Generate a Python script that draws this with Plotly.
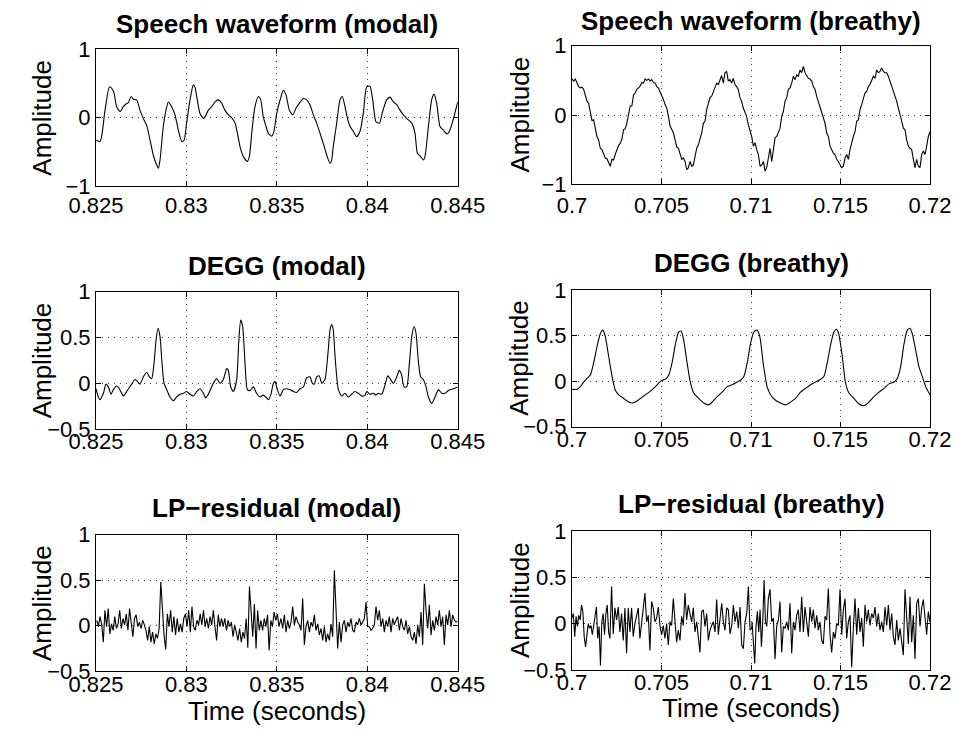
import numpy as np
import plotly.graph_objects as go

# ---------------- data (times in ms from window start, amplitudes normalised) ----------------
MODAL_T0 = 0.825
BREATHY_T0 = 0.700

speech_modal_ms = [0, 0.22, 0.31, 0.50, 0.74, 0.87, 1.00, 1.14, 1.33, 1.51,
    1.66, 1.79, 1.94, 2.06, 2.25, 2.43, 2.65, 2.80, 2.99, 3.17,
    3.32, 3.45, 3.54, 3.72, 3.87, 4.00, 4.18, 4.37, 4.55, 4.74,
    4.87, 5.01, 5.20, 5.38, 5.47, 5.60, 5.75, 5.94, 6.03, 6.21,
    6.40, 6.58, 6.76, 6.95, 7.13, 7.32, 7.50, 7.69, 7.82, 7.96,
    8.15, 8.37, 8.48, 8.61, 8.79, 8.98, 9.11, 9.25, 9.38, 9.53,
    9.71, 9.84, 9.99, 10.18, 10.36, 10.51, 10.69, 10.88, 11.06, 11.24,
    11.47, 11.65, 11.83, 12.02, 12.20, 12.39, 12.57, 12.76, 12.94, 13.03,
    13.12, 13.31, 13.49, 13.62, 13.77, 13.92, 14.05, 14.23, 14.41, 14.60,
    14.78, 14.97, 15.15, 15.30, 15.48, 15.67, 15.85, 16.07, 16.26, 16.44,
    16.63, 16.81, 17.00, 17.18, 17.46, 17.64, 17.77, 17.95, 18.10, 18.19,
    18.38, 18.56, 18.69, 18.84, 19.02, 19.20, 19.42, 19.57, 19.75, 20.00]
speech_modal_amp = [-0.33, -0.35, -0.28, 0.11, 0.45, 0.43, 0.36, 0.16, 0.09, 0.16,
    0.20, 0.22, 0.31, 0.27, 0.26, 0.11, -0.03, -0.11, -0.33, -0.55,
    -0.67, -0.74, -0.62, -0.13, 0.11, 0.23, 0.16, 0.04, -0.18, -0.35,
    -0.33, -0.08, 0.26, 0.48, 0.45, 0.26, 0.06, -0.01, 0.01, 0.11,
    0.16, 0.23, 0.26, 0.21, 0.11, 0.04, 0.00, -0.08, -0.23, -0.42,
    -0.57, -0.64, -0.57, -0.23, 0.16, 0.31, 0.26, 0.01, -0.11, -0.23,
    -0.27, -0.20, 0.06, 0.26, 0.40, 0.33, 0.11, 0.04, 0.14, 0.21,
    0.28, 0.26, 0.19, 0.04, -0.08, -0.23, -0.38, -0.55, -0.67, -0.62,
    -0.42, -0.08, 0.26, 0.31, 0.16, -0.03, -0.13, -0.20, -0.28, -0.20,
    0.06, 0.45, 0.46, 0.26, -0.06, -0.08, 0.09, 0.26, 0.30, 0.23,
    0.19, 0.11, 0.04, -0.01, -0.08, -0.23, -0.52, -0.57, -0.62, -0.57,
    -0.13, 0.26, 0.34, 0.21, -0.13, -0.18, -0.24, -0.18, -0.03, 0.23]

# breathy speech: two runs of evenly spaced readings (start ms, end ms, values)
speech_breathy_run1 = (0.0, 9.94, [0.52, 0.49, 0.52, 0.47, 0.41, 0.39, 0.40, 0.37, 0.29, 0.20,
    0.17, 0.05, -0.08, -0.07, -0.21, -0.31, -0.36, -0.48, -0.50, -0.57,
    -0.62, -0.63, -0.69, -0.74, -0.64, -0.65, -0.57, -0.50, -0.44, -0.41,
    -0.35, -0.21, -0.20, -0.12, 0.03, 0.13, 0.13, 0.29, 0.32, 0.37,
    0.39, 0.42, 0.47, 0.46, 0.52, 0.50, 0.52, 0.49, 0.51, 0.47,
    0.46, 0.41, 0.39, 0.34, 0.29, 0.22, 0.15, 0.10, -0.02, -0.16,
    -0.21, -0.26, -0.36, -0.46, -0.48, -0.55, -0.64, -0.62, -0.67, -0.79,
    -0.76, -0.67, -0.74, -0.72, -0.57, -0.48, -0.43, -0.36, -0.26, -0.12,
    -0.09, 0.08, 0.15, 0.25, 0.27, 0.34, 0.41, 0.46, 0.44, 0.51,
    0.57, 0.46, 0.61, 0.63, 0.49, 0.51, 0.46, 0.53, 0.44, 0.41,
    0.37, 0.25, 0.20, 0.10, 0.05, -0.02, -0.14, -0.21])
speech_breathy_run2 = (10.04, 20.0, [-0.31, -0.45, -0.40, -0.50, -0.57, -0.74, -0.72, -0.67, -0.81, -0.76,
    -0.62, -0.48, -0.67, -0.48, -0.33, -0.31, -0.24, -0.19, -0.02, 0.05,
    0.20, 0.25, 0.37, 0.39, 0.46, 0.56, 0.51, 0.58, 0.56, 0.65,
    0.61, 0.70, 0.61, 0.56, 0.53, 0.52, 0.49, 0.41, 0.37, 0.27,
    0.20, 0.13, 0.03, -0.04, -0.12, -0.26, -0.31, -0.45, -0.50, -0.55,
    -0.57, -0.64, -0.67, -0.72, -0.76, -0.74, -0.62, -0.57, -0.64, -0.50,
    -0.38, -0.31, -0.24, -0.09, -0.07, 0.08, 0.15, 0.22, 0.32, 0.34,
    0.41, 0.44, 0.51, 0.56, 0.53, 0.65, 0.61, 0.63, 0.68, 0.63,
    0.61, 0.61, 0.56, 0.49, 0.44, 0.37, 0.27, 0.20, 0.10, -0.02,
    -0.09, -0.19, -0.21, -0.36, -0.45, -0.48, -0.50, -0.64, -0.76, -0.64,
    -0.74, -0.76, -0.57, -0.52, -0.57, -0.45, -0.31, -0.24])

degg_modal_ms = [0, 0.13, 0.22, 0.41, 0.55, 0.68, 0.83, 0.96, 1.14, 1.29,
    1.51, 1.70, 1.97, 2.16, 2.30, 2.43, 2.62, 2.80, 2.95, 3.08,
    3.21, 3.32, 3.43, 3.54, 3.65, 3.76, 3.91, 4.09, 4.28, 4.46,
    4.65, 4.83, 5.01, 5.20, 5.38, 5.57, 5.75, 5.94, 6.06, 6.21,
    6.49, 6.67, 6.86, 7.04, 7.23, 7.32, 7.45, 7.60, 7.78, 7.89,
    8.00, 8.11, 8.24, 8.37, 8.52, 8.70, 8.88, 9.07, 9.25, 9.44,
    9.53, 9.66, 9.81, 9.90, 10.03, 10.18, 10.36, 10.54, 10.73, 10.91,
    11.10, 11.28, 11.47, 11.65, 11.83, 11.96, 12.07, 12.20, 12.35, 12.48,
    12.66, 12.81, 12.94, 13.03, 13.12, 13.22, 13.40, 13.59, 13.77, 13.95,
    14.14, 14.32, 14.51, 14.69, 14.88, 14.97, 15.15, 15.34, 15.48, 15.61,
    15.80, 15.98, 16.13, 16.26, 16.44, 16.63, 16.77, 16.90, 17.03, 17.18,
    17.33, 17.46, 17.59, 17.70, 17.82, 17.95, 18.10, 18.25, 18.38, 18.56,
    18.75, 18.93, 19.12, 19.30, 19.48, 19.76, 20.00]
degg_modal_amp = [-0.06, -0.15, -0.18, -0.11, -0.01, -0.04, -0.12, -0.07, -0.03, -0.06,
    -0.14, -0.09, -0.01, 0.04, 0.02, -0.01, 0.07, 0.12, 0.07, 0.05,
    0.22, 0.47, 0.60, 0.51, 0.22, 0.00, -0.07, -0.15, -0.19, -0.15,
    -0.12, -0.11, -0.09, -0.12, -0.14, -0.09, -0.06, -0.11, -0.16, -0.12,
    0.00, 0.05, 0.00, 0.04, 0.16, 0.14, -0.04, -0.09, 0.04, 0.44,
    0.69, 0.62, 0.22, -0.07, -0.08, -0.04, -0.11, -0.15, -0.13, -0.16,
    -0.18, -0.13, 0.00, 0.02, -0.07, -0.14, -0.07, -0.06, -0.07, -0.09,
    -0.10, -0.06, -0.04, 0.06, 0.07, 0.00, -0.01, 0.07, 0.08, 0.00,
    0.04, 0.29, 0.58, 0.64, 0.58, 0.29, -0.07, -0.14, -0.11, -0.15,
    -0.12, -0.09, -0.11, -0.14, -0.13, -0.09, -0.12, -0.11, -0.13, -0.11,
    -0.12, -0.02, 0.08, 0.05, 0.00, 0.07, 0.14, 0.09, -0.04, -0.04,
    0.22, 0.51, 0.62, 0.54, 0.25, 0.07, 0.04, -0.04, -0.15, -0.22,
    -0.15, -0.07, -0.11, -0.11, -0.08, -0.06, -0.04]

degg_breathy_ms = [0, 0.28, 0.47, 0.65, 0.84, 1.03, 1.21, 1.40, 1.58, 1.73,
    1.86, 2.05, 2.24, 2.42, 2.61, 2.89, 3.17, 3.36, 3.54, 3.82,
    4.10, 4.38, 4.66, 4.85, 5.03, 5.22, 5.41, 5.59, 5.78, 5.96,
    6.10, 6.24, 6.43, 6.62, 6.80, 7.08, 7.36, 7.64, 7.83, 8.11,
    8.39, 8.67, 8.95, 9.23, 9.41, 9.60, 9.79, 9.97, 10.16, 10.34,
    10.49, 10.68, 10.90, 11.09, 11.37, 11.65, 11.93, 12.21, 12.49, 12.77,
    13.05, 13.33, 13.61, 13.89, 14.07, 14.26, 14.45, 14.63, 14.78, 14.91,
    15.10, 15.28, 15.47, 15.75, 16.03, 16.31, 16.59, 16.87, 17.15, 17.43,
    17.71, 17.99, 18.17, 18.36, 18.55, 18.73, 18.88, 19.01, 19.20, 19.38,
    19.57, 19.76, 20.00]
degg_breathy_amp = [-0.09, -0.09, -0.06, -0.01, 0.03, 0.07, 0.20, 0.38, 0.52, 0.56,
    0.49, 0.27, 0.05, -0.10, -0.15, -0.19, -0.23, -0.24, -0.23, -0.19,
    -0.15, -0.11, -0.06, -0.02, 0.01, 0.02, 0.07, 0.20, 0.41, 0.54,
    0.55, 0.45, 0.20, -0.02, -0.13, -0.19, -0.24, -0.26, -0.23, -0.17,
    -0.12, -0.06, -0.04, -0.01, 0.01, 0.05, 0.20, 0.41, 0.54, 0.56,
    0.49, 0.20, -0.06, -0.15, -0.21, -0.24, -0.26, -0.23, -0.19, -0.12,
    -0.08, -0.04, -0.01, 0.02, 0.05, 0.20, 0.40, 0.54, 0.57, 0.51,
    0.27, -0.02, -0.13, -0.19, -0.25, -0.27, -0.23, -0.17, -0.12, -0.08,
    -0.03, -0.01, 0.03, 0.16, 0.41, 0.56, 0.58, 0.52, 0.34, 0.16,
    0.05, -0.06, -0.15]

# LP residuals: runs of evenly spaced readings (start ms, end ms, values)
resid_modal_run1 = (0.04, 10.12, [0.06, -0.01, 0.10, 0.02, -0.18, 0.17, -0.01, 0.19, -0.09, 0.02,
    -0.05, 0.10, -0.03, 0.02, 0.17, -0.03, 0.08, 0.01, 0.13, -0.05,
    0.19, -0.01, -0.12, 0.08, 0.12, -0.01, 0.04, -0.03, 0.06, 0.01,
    -0.05, -0.16, -0.01, -0.18, -0.07, -0.20, -0.09, -0.14, -0.03, 0.48,
    0.17, -0.10, -0.26, 0.13, -0.01, 0.17, -0.07, 0.10, -0.10, 0.08,
    -0.07, 0.02, -0.07, 0.08, 0.13, -0.01, 0.17, -0.07, 0.21, -0.01,
    -0.05, 0.06, 0.01, 0.13, 0.01, 0.17, -0.01, 0.08, -0.03, 0.10,
    0.01, 0.17, -0.01, -0.16, 0.12, -0.01, 0.08, -0.01, 0.08, -0.05,
    0.06, -0.01, 0.04, -0.12, 0.01, -0.07, -0.16, -0.03, -0.18, -0.07,
    -0.14, 0.08, -0.24, 0.43, 0.17, -0.12, 0.24, -0.25, 0.17, -0.05,
    0.06, -0.05, 0.08, -0.01, 0.12, -0.27, 0.06, -0.01, 0.15, 0.06,
    0.13, -0.01])
resid_modal_run2 = (10.23, 20.0, [0.08, -0.03, 0.12, -0.07, 0.06, -0.03, 0.04, 0.21, 0.01, 0.10,
    0.04, 0.01, -0.05, 0.30, -0.21, -0.01, 0.06, -0.07, 0.04, -0.01,
    0.12, -0.05, 0.02, -0.10, -0.03, -0.16, -0.01, -0.18, -0.09, -0.16,
    0.02, -0.12, 0.61, 0.06, -0.25, 0.04, -0.18, 0.01, 0.06, -0.07,
    0.04, -0.01, 0.08, -0.05, -0.07, 0.04, 0.01, 0.08, 0.01, 0.04,
    0.08, 0.26, -0.01, -0.01, -0.05, -0.03, 0.01, 0.21, 0.06, 0.17,
    -0.01, 0.08, -0.07, 0.06, -0.01, 0.10, -0.07, 0.08, 0.01, 0.06,
    0.10, -0.05, 0.08, -0.01, -0.05, 0.06, -0.09, -0.01, -0.12, -0.16,
    -0.07, -0.20, 0.01, -0.12, 0.15, -0.21, 0.46, 0.17, -0.03, 0.23,
    -0.10, 0.06, -0.05, 0.10, 0.01, 0.17, -0.01, 0.10, -0.21, 0.12,
    0.01, 0.17, -0.01, 0.12, 0.06, 0.04, 0.05])

resid_breathy_run1 = (0.0, 2.12, [0.06, 0.11, -0.14, 0.08, -0.03, 0.09, 0.04, 0.20, 0.13, -0.14,
    -0.25, -0.09, 0.00, -0.05, -0.02, -0.12, -0.03, 0.11, 0.18, -0.16,
    -0.03, -0.45, 0.02, 0.11, -0.12, 0.11, 0.20, -0.09, -0.16])
resid_breathy_run2 = (2.21, 10.04, [0.40,
    -0.11, 0.17, 0.04, 0.18, -0.09, 0.11, -0.18, 0.17, -0.32, 0.17,
    -0.09, 0.17, -0.14, 0.00, 0.08, 0.17, -0.16, 0.02, 0.15, 0.33,
    0.02, 0.09, -0.29, 0.24, 0.17, 0.02, 0.06, 0.18, -0.02, -0.12,
    -0.02, -0.16, 0.00, -0.23, 0.02, -0.02, 0.27, -0.03, -0.20, -0.07,
    -0.18, 0.08, -0.02, 0.33, 0.04, 0.20, 0.11, 0.02, 0.17, -0.09,
    0.02, -0.14, -0.31, 0.13, 0.15, -0.03, 0.11, -0.18, -0.07, -0.02,
    0.02, -0.09, 0.26, -0.12, 0.09, 0.22, 0.02, -0.07, 0.17, 0.15,
    -0.11, -0.02, 0.20, 0.02, 0.13, -0.05, 0.18, -0.23, -0.27, 0.02,
    0.11, 0.40, -0.07, -0.05])
resid_breathy_run3 = (10.06, 10.88, [0.02, -0.20, -0.43, -0.02, 0.13, -0.09, 0.15, -0.25, 0.02, 0.47,
    0.02, -0.03])
resid_breathy_run4 = (10.97, 20.0, [0.27, 0.37, 0.02, 0.06, -0.38, -0.03, 0.04, 0.24,
    -0.31, -0.03, -0.05, 0.02, -0.07, 0.22, -0.32, 0.02, -0.07, 0.09,
    0.15, -0.09, 0.29, -0.09, 0.18, 0.02, -0.14, 0.18, 0.02, 0.15,
    -0.05, 0.09, -0.07, 0.02, -0.18, -0.22, 0.08, 0.04, 0.38, -0.12,
    -0.31, -0.09, -0.16, 0.00, -0.02, 0.37, -0.12, 0.15, 0.27, -0.16,
    0.02, 0.09, -0.47, -0.05, 0.27, -0.12, 0.17, -0.09, 0.06, -0.25,
    0.20, 0.02, 0.15, -0.02, 0.11, 0.06, 0.18, -0.03, 0.11, -0.07,
    0.02, -0.09, 0.18, -0.02, 0.20, -0.07, 0.11, -0.14, -0.23, 0.04,
    -0.18, -0.05, -0.23, -0.34, 0.37, 0.02, -0.22, 0.29, -0.20, 0.09,
    -0.38, 0.22, 0.27, -0.03, 0.17, 0.26, 0.06, -0.12, 0.13, 0.02])

modal_xticks = [0.825, 0.83, 0.835, 0.84, 0.845]
modal_xticktext = ["0.825", "0.83", "0.835", "0.84", "0.845"]
breathy_xticks = [0.70, 0.705, 0.71, 0.715, 0.72]
breathy_xticktext = ["0.7", "0.705", "0.71", "0.715", "0.72"]
speech_yticks = [-1, 0, 1]
speech_yticktext = ["\u22121", "0", "1"]
other_yticks = [-0.5, 0, 0.5, 1]
other_yticktext = ["\u22120.5", "0", "0.5", "1"]


def to_sec(t0, ms_list):
    return [t0 + m / 1000.0 for m in ms_list]


def runs_to_xy(t0, runs):
    xs, ys = [], []
    for start, end, vals in runs:
        ts = np.linspace(start, end, len(vals))
        xs.extend(t0 + ts / 1000.0)
        ys.extend(vals)
    return xs, ys


sb_x, sb_y = runs_to_xy(BREATHY_T0, [speech_breathy_run1, speech_breathy_run2])
rm_x, rm_y = runs_to_xy(MODAL_T0, [resid_modal_run1, resid_modal_run2])
rb_x, rb_y = runs_to_xy(BREATHY_T0, [resid_breathy_run1, resid_breathy_run2,
                                     resid_breathy_run3, resid_breathy_run4])

# ---------------- layout geometry (pixels in a 955 x 730 canvas) ----------------
W, H = 955, 730
FONT = "Liberation Sans, Arial, Helvetica, sans-serif"
TICK_SIZE = 22
LABEL_SIZE = 26

panels = [
    dict(title="Speech waveform (modal)", x=to_sec(MODAL_T0, speech_modal_ms), y=speech_modal_amp,
         xr=[0.825, 0.845], xt=modal_xticks, xtt=modal_xticktext, yr=[-1, 1], yt=speech_yticks,
         ytt=speech_yticktext, px=(96, 457.7), py=(49.3, 186), shape="spline", ty=24, so=0),
    dict(title="Speech waveform (breathy)", x=sb_x, y=sb_y,
         xr=[0.70, 0.72], xt=breathy_xticks, xtt=breathy_xticktext, yr=[-1, 1], yt=speech_yticks,
         ytt=speech_yticktext, px=(572, 930), py=(45.7, 184.3), shape="linear", ty=21, so=1),
    dict(title="DEGG (modal)", x=to_sec(MODAL_T0, degg_modal_ms), y=degg_modal_amp,
         xr=[0.825, 0.845], xt=modal_xticks, xtt=modal_xticktext, yr=[-0.5, 1], yt=other_yticks,
         ytt=other_yticktext, px=(96, 457.7), py=(291.7, 429), shape="spline", ty=266, so=-7),
    dict(title="DEGG (breathy)", x=to_sec(BREATHY_T0, degg_breathy_ms), y=degg_breathy_amp,
         xr=[0.70, 0.72], xt=breathy_xticks, xtt=breathy_xticktext, yr=[-0.5, 1], yt=other_yticks,
         ytt=other_yticktext, px=(572, 930), py=(290, 426.7), shape="spline", ty=263, so=-7),
    dict(title="LP\u2212residual (modal)", x=rm_x, y=rm_y,
         xr=[0.825, 0.845], xt=modal_xticks, xtt=modal_xticktext, yr=[-0.5, 1], yt=other_yticks,
         ytt=other_yticktext, px=(96, 457.7), py=(534.7, 671.3), shape="linear", ty=508, so=-7),
    dict(title="LP\u2212residual (breathy)", x=rb_x, y=rb_y,
         xr=[0.70, 0.72], xt=breathy_xticks, xtt=breathy_xticktext, yr=[-0.5, 1], yt=other_yticks,
         ytt=other_yticktext, px=(572, 930), py=(531, 670), shape="linear", ty=504, so=-7),
]

fig = go.Figure()
layout = dict(
    width=W, height=H, margin=dict(l=0, r=0, t=0, b=0, autoexpand=False),
    paper_bgcolor="white", plot_bgcolor="white", showlegend=False,
    font=dict(family=FONT, color="black", size=TICK_SIZE),
)
annotations = []

for i, p in enumerate(panels, start=1):
    xa = "x" if i == 1 else f"x{i}"
    ya = "y" if i == 1 else f"y{i}"
    line = dict(color="black", width=1.1, shape=p["shape"])
    if p["shape"] == "spline":
        line["smoothing"] = 0.6
    fig.add_trace(go.Scatter(x=p["x"], y=p["y"], mode="lines", line=line,
                             xaxis=xa, yaxis=ya, hoverinfo="skip"))
    common = dict(showline=True, linecolor="black", linewidth=1, mirror="ticks",
                  ticks="inside", ticklen=5, tickcolor="black", tickwidth=1,
                  showgrid=True, gridcolor="#444444", gridwidth=1, griddash="1px,5px",
                  zeroline=False, tickfont=dict(family=FONT, size=TICK_SIZE, color="black"),
                  fixedrange=True, automargin=False)
    layout["xaxis" if i == 1 else f"xaxis{i}"] = dict(
        common, domain=[p["px"][0] / W, p["px"][1] / W], range=p["xr"],
        tickvals=p["xt"], ticktext=p["xtt"], anchor=ya, ticklabelstandoff=p["so"])
    layout["yaxis" if i == 1 else f"yaxis{i}"] = dict(
        common, domain=[1 - p["py"][1] / H, 1 - p["py"][0] / H], range=p["yr"],
        tickvals=p["yt"], ticktext=p["ytt"], anchor=xa)
    cx = (p["px"][0] + p["px"][1]) / 2 / W
    cy = 1 - (p["py"][0] + p["py"][1]) / 2 / H
    annotations.append(dict(text="<b>" + p["title"] + "</b>", x=cx, y=1 - p["ty"] / H,
                            xref="paper", yref="paper", xanchor="center", yanchor="middle",
                            showarrow=False, font=dict(family=FONT, size=LABEL_SIZE, color="black")))
    lab_x = 42 if p["px"][0] < 300 else 519.5
    annotations.append(dict(text="Amplitude", x=lab_x / W, y=cy, textangle=-90,
                            xref="paper", yref="paper", xanchor="center", yanchor="middle",
                            showarrow=False, font=dict(family=FONT, size=LABEL_SIZE, color="black")))
    if i >= 5:
        ly = 711 if i == 5 else 708
        annotations.append(dict(text="Time (seconds)", x=cx, y=1 - ly / H,
                                xref="paper", yref="paper", xanchor="center", yanchor="middle",
                                showarrow=False, font=dict(family=FONT, size=LABEL_SIZE, color="black")))

layout["annotations"] = annotations
fig.update_layout(**layout)
fig.write_html("out.html")
